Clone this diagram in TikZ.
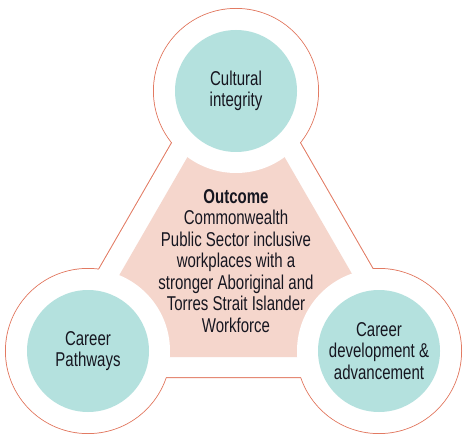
\documentclass[tikz,border=0pt]{standalone}
\usepackage{fontspec}
\setmainfont{Liberation Sans}[FakeStretch=0.75]
\definecolor{tealfill}{RGB}{180,225,222}
\definecolor{pinkfill}{RGB}{245,214,204}
\definecolor{rim}{RGB}{226,122,98}
\definecolor{ink}{RGB}{22,22,32}

\begin{document}
\begin{tikzpicture}[x=0.75pt,y=0.75pt]
		\tikzstyle{every node} = [text=ink,font=\fontsize{15}{16.1}\selectfont,align=center];
		\tikzstyle{topic} = [circle,fill=tealfill,minimum size=91.5pt,inner sep=0pt];
		\useasboundingbox (0,0) rectangle (470,-445);
		% outer outline
		\draw[line width=1.5pt,draw=rim] (236,-32) -- (37,-377) -- (435,-377) -- cycle
			(236,-91) circle (82) (88,-351) circle (82) (379,-351) circle (82);
		\fill[white] (236,-32) -- (37,-377) -- (435,-377) -- cycle
			(236,-91) circle (82) (88,-351) circle (82) (379,-351) circle (82);
		% centre
		\fill[pinkfill] (236,-73) -- (72,-357) -- (400,-357) -- cycle;
		\fill[white] (236,-91) circle (82) (88,-351) circle (82) (379,-351) circle (82);
		\node (0) at (236,-261) {\textbf{Outcome}\\Commonwealth\\Public Sector inclusive\\workplaces with a\\stronger Aboriginal and\\Torres Strait Islander\\Workforce};
		\node[topic] (1) at (236,-91) {Cultural\\integrity};
		\node[topic] (2) at (88,-351) {Career\\Pathways};
		\node[topic] (3) at (379,-351) {Career\\development \&\\advancement};
	\end{tikzpicture}
\end{document}
